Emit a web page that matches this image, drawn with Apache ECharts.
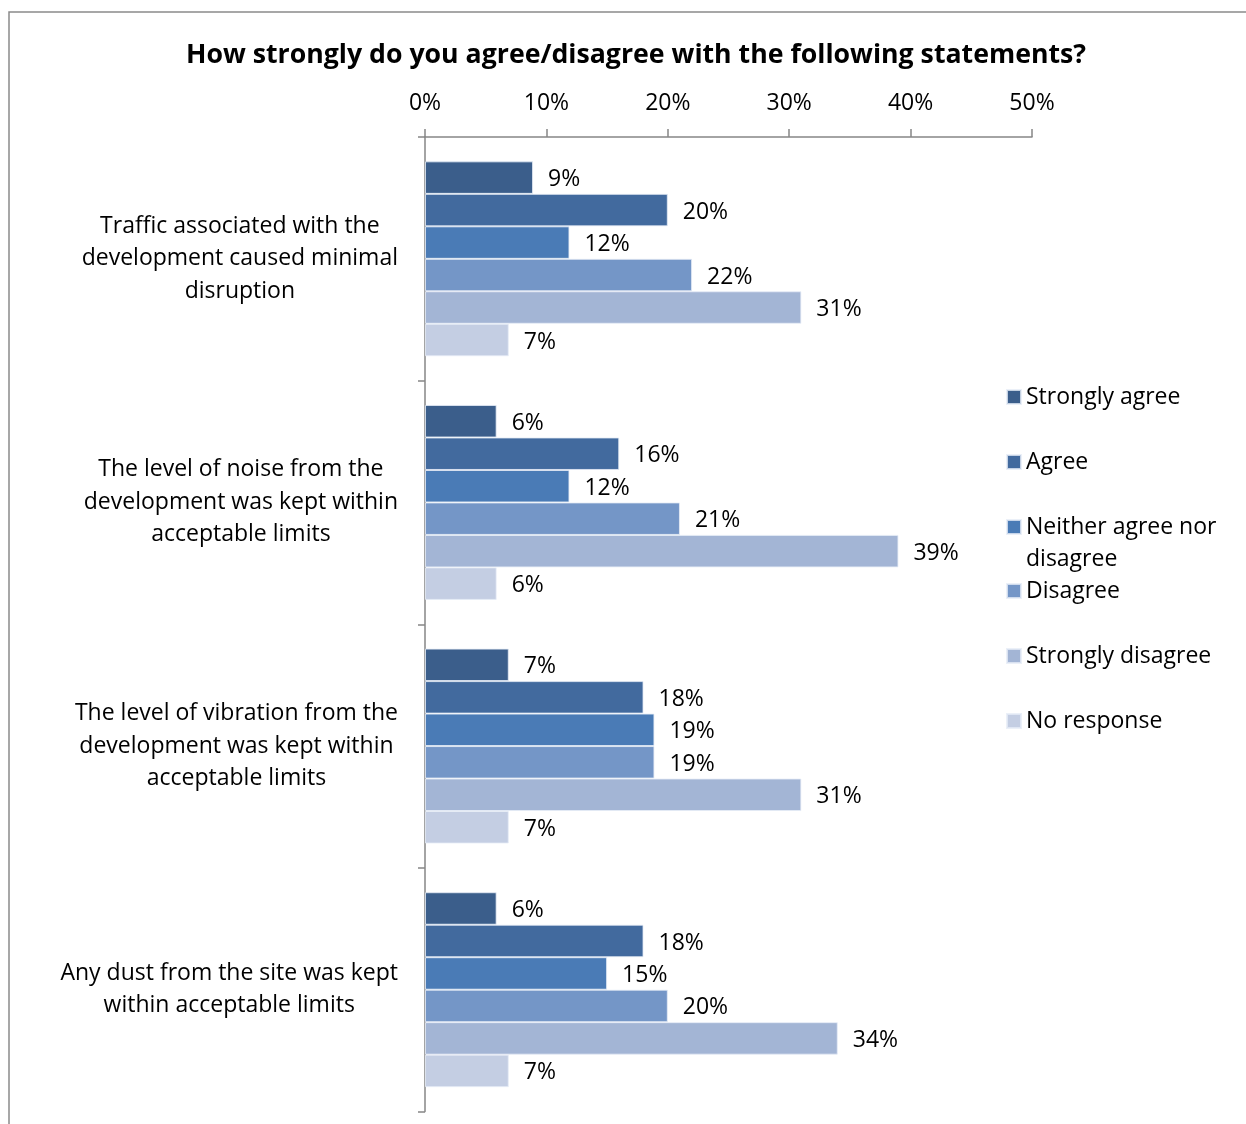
<!DOCTYPE html>
<html>
<head>
<meta charset="utf-8">
<script src="https://cdn.jsdelivr.net/npm/echarts@6/dist/echarts.min.js"></script>
<style>
html,body{margin:0;padding:0;background:#fff;}
#chart{width:1246px;height:1124px;}
</style>
</head>
<body>
<div id="chart"></div>
<script>
const titleText = 'How strongly do you agree/disagree with the following statements?';
const categories = [
  'Traffic associated with the\ndevelopment caused minimal\ndisruption',
  'The level of noise from the\ndevelopment was kept within\nacceptable limits',
  'The level of vibration from the\ndevelopment was kept within\nacceptable limits',
  'Any dust from the site was kept\nwithin acceptable limits'
];
const seriesNames = ['Strongly agree', 'Agree', 'Neither agree nor disagree', 'Disagree', 'Strongly disagree', 'No response'];
const stronglyAgree = [8.9, 5.9, 6.9, 5.9];
const agree = [20.0, 16.0, 18.0, 18.0];
const neither = [11.9, 11.9, 18.9, 15.0];
const disagree = [22.0, 21.0, 18.9, 20.0];
const stronglyDisagree = [31.0, 39.0, 31.0, 34.0];
const noResponse = [6.9, 5.9, 6.9, 6.9];
const xTicks = [0, 10, 20, 30, 40, 50];
const colors = ['#3B5E8B', '#426A9E', '#4A7BB6', '#7496C7', '#A3B5D5', '#C4CEE3'];

const seriesValues = [stronglyAgree, agree, neither, disagree, stronglyDisagree, noResponse];
const FONT = '"Open Sans", sans-serif';

const chart = echarts.init(document.getElementById('chart'));

const legendTops = [381, 446, 479, 575, 640, 705];
const legends = seriesNames.map((n, i) => ({
  data: [n],
  orient: 'vertical',
  left: 1006,
  top: legendTops[i],
  padding: 0,
  icon: 'rect',
  itemWidth: 14,
  itemHeight: 14,
  itemGap: 7,
  formatter: function (name) { return name === 'Neither agree nor disagree' ? ' \nNeither agree nor\ndisagree' : name; },
  textStyle: { fontFamily: FONT, fontSize: 23, color: '#000', lineHeight: 32 }
}));

chart.setOption({
  animation: false,
  backgroundColor: '#fff',
  title: {
    text: titleText,
    left: 631,
    textAlign: 'center',
    top: 37,
    textStyle: { fontFamily: FONT, fontSize: 26.7, fontWeight: 'bold', color: '#000' }
  },
  graphic: [{
    type: 'rect',
    shape: { x: 9, y: 12, width: 1400, height: 1300 },
    style: { fill: 'none', stroke: '#8a8a8a', lineWidth: 1.5 },
    silent: true
  }],
  legend: legends,
  grid: { left: 425, right: 214, top: 137, bottom: 12.5, containLabel: false },
  xAxis: {
    type: 'value',
    position: 'top',
    min: 0, max: 50, interval: 10,
    axisLine: { show: true, lineStyle: { color: '#868686', width: 1.5 } },
    axisTick: { show: true, inside: false, length: 8, lineStyle: { color: '#868686', width: 1.5 } },
    splitLine: { show: false },
    axisLabel: {
      fontFamily: FONT, fontSize: 23, color: '#000', margin: 22,
      formatter: function (v) { return xTicks.indexOf(v) >= 0 ? v + '%' : ''; }
    }
  },
  yAxis: {
    type: 'category',
    data: categories,
    inverse: true,
    axisLine: { show: true, lineStyle: { color: '#868686', width: 1.5 } },
    axisTick: { show: true, inside: false, length: 7, lineStyle: { color: '#868686', width: 1.5 } },
    axisLabel: {
      align: 'right',
      margin: 27,
      formatter: function (v) { return v.split('\n').map(l => '{c|' + l + '}').join('\n'); },
      rich: { c: { align: 'center', fontFamily: FONT, fontSize: 23, lineHeight: 32.5, color: '#000' } }
    }
  },
  series: seriesNames.map((n, i) => ({
    name: n,
    type: 'bar',
    data: seriesValues[i],
    barGap: '0%',
    barCategoryGap: '20%',
    itemStyle: { color: colors[i], borderColor: 'rgba(230,236,246,0.8)', borderWidth: 1 },
    label: {
      show: true, position: 'right', distance: 15, offset: [0, 2],
      fontFamily: FONT, fontSize: 23, color: '#000',
      formatter: function (p) { return Math.round(p.value) + '%'; }
    }
  }))
});
</script>
</body>
</html>
